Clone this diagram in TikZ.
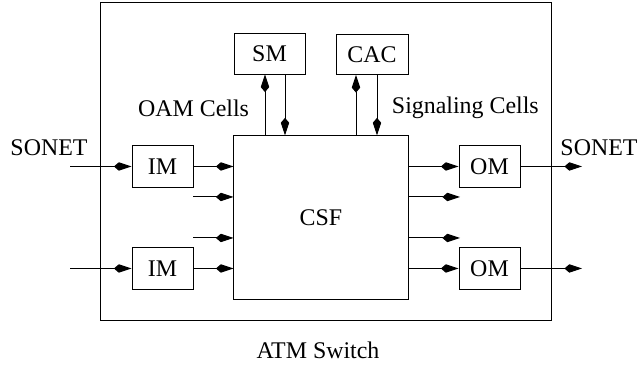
\documentclass[tikz,border=0pt]{standalone}
\usepackage{fontspec}
\setmainfont{Liberation Serif}
\usetikzlibrary{arrows.meta,positioning}
\tikzset{
  block/.style  = {draw, line width=0.7pt, inner sep=0pt,
                   minimum width=1.525cm, minimum height=1.025cm},
  frame/.style  = {draw, line width=0.7pt, inner sep=0pt},
  sig/.style    = {-{Kite[length=12.5pt,width=6pt,inset=3.5pt]}, line width=0.7pt},
}

\begin{document}
\begin{tikzpicture}[x=0.025cm,y=0.025cm,font=\fontsize{17}{20}\selectfont]
\useasboundingbox (0,0) rectangle (640,366);
% switch frame and fabric
\node[frame, minimum width=11.25cm, minimum height=7.925cm] (atm) at (326,204.5) {};
\node[frame, minimum width=4.35cm, minimum height=4.075cm] (csf) at (321,148.5) {CSF};
\node[block, minimum width=1.775cm, minimum height=1cm] (sm) at (269.5,312) {SM};
\node[block, minimum width=1.8cm, minimum height=1cm] (cac) at (372,311.5) {CAC};
\node[block] (imA) at (162.5,199.5) {IM};
\node[block] (imB) at (162.5,97.5) {IM};
\node[block] (omA) at (489.5,199.5) {OM};
\node[block] (omB) at (489.5,97.5) {OM};
% free ends
\coordinate (inA) at (70,199.5);
\coordinate (inB) at (70,97.5);
\coordinate (inC) at (193,169);
\coordinate (inD) at (193,128);
\coordinate (outA) at (582,199.5);
\coordinate (outB) at (582,97.5);
\coordinate (outC) at (460,169);
\coordinate (outD) at (460,128);
\coordinate (smup) at (265,0);
\coordinate (smdn) at (285,0);
\coordinate (cacup) at (356,0);
\coordinate (cacdn) at (377,0);
% inputs
\draw[sig] (inA) -- (imA.west);
\draw[sig] (inB) -- (imB.west);
\draw[sig] (imA.east) -- (imA.east -| csf.west);
\draw[sig] (imB.east) -- (imB.east -| csf.west);
\draw[sig] (inC) -- (inC -| csf.west);
\draw[sig] (inD) -- (inD -| csf.west);
% outputs
\draw[sig] (omA.west -| csf.east) -- (omA.west);
\draw[sig] (omB.west -| csf.east) -- (omB.west);
\draw[sig] (outC -| csf.east) -- (outC);
\draw[sig] (outD -| csf.east) -- (outD);
\draw[sig] (omA.east) -- (outA);
\draw[sig] (omB.east) -- (outB);
% management cells
\draw[sig] (smup |- csf.north) -- (smup |- sm.south);
\draw[sig] (smdn |- sm.south) -- (smdn |- csf.north);
\draw[sig] (cacup |- csf.north) -- (cacup |- cac.south);
\draw[sig] (cacdn |- cac.south) -- (cacdn |- csf.north);
% labels
\node[anchor=east] (oam) at (254,258) {OAM Cells};
\node[anchor=west] (sigc) at (387,258) {Signaling Cells};
\node (sonetA) at (49,218) {SONET};
\node (sonetB) at (599,218) {SONET};
\node (title) at (318,16) {ATM Switch};
\end{tikzpicture}
\end{document}
